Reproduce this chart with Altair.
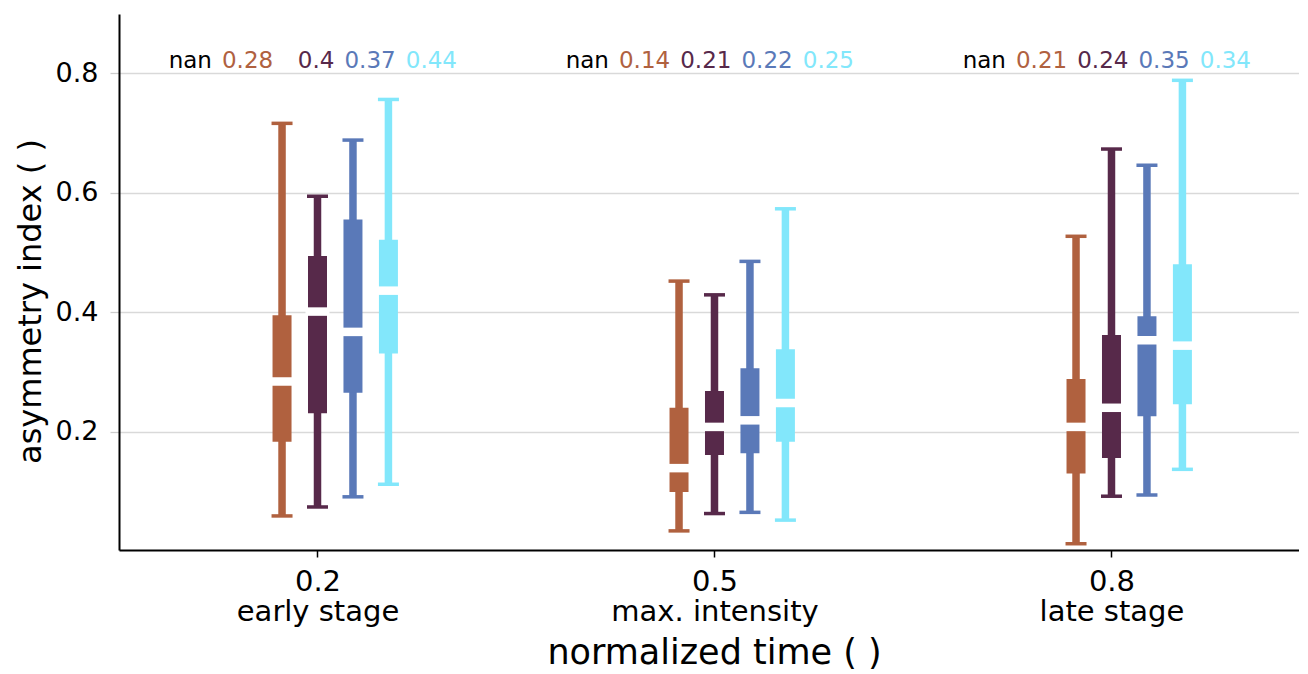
import altair as alt
import pandas as pd

# ---- data ----
times = [0.2, 0.5, 0.8]
stage_names = ["early stage", "max. intensity", "late stage"]
series = ["nan", "A", "B", "C", "D"]
colors = ["#000000", "#B0613F", "#57294A", "#5A79B8", "#82E7FB"]

whisk_lo = {"A": [0.059, 0.034, 0.0125], "B": [0.074, 0.063, 0.092],
            "C": [0.091, 0.065, 0.094], "D": [0.112, 0.052, 0.137]}
q1 = {"A": [0.183, 0.099, 0.130], "B": [0.231, 0.161, 0.156],
      "C": [0.265, 0.164, 0.226], "D": [0.331, 0.183, 0.246]}
median = {"A": [0.284, 0.139, 0.208], "B": [0.401, 0.208, 0.240],
          "C": [0.367, 0.219, 0.353], "D": [0.436, 0.248, 0.344]}
q3 = {"A": [0.395, 0.240, 0.288], "B": [0.494, 0.268, 0.362],
      "C": [0.555, 0.306, 0.393], "D": [0.521, 0.338, 0.480]}
whisk_hi = {"A": [0.716, 0.452, 0.527], "B": [0.594, 0.429, 0.673],
            "C": [0.688, 0.485, 0.646], "D": [0.756, 0.573, 0.788]}

box_step = 0.0268      # dodge between series
label_step = 0.0463    # spacing of the median annotations
label_shift = 0.0128
label_level = 0.809

rows = []
for k, s in enumerate(series[1:]):
    for i, t in enumerate(times):
        rows.append(dict(series=s, t=t, x=t + (k - 1) * box_step,
                         lo=whisk_lo[s][i], q1=q1[s][i], med=median[s][i],
                         q3=q3[s][i], hi=whisk_hi[s][i]))
df = pd.DataFrame(rows)

lab_rows = []
for k, s in enumerate(series):
    for i, t in enumerate(times):
        txt = "nan" if s == "nan" else str(round(median[s][i], 2))
        lab_rows.append(dict(series=s, x=t + label_shift + (k - 2) * label_step,
                             y=label_level, text=txt))
ldf = pd.DataFrame(lab_rows)

FONT = "DejaVu Sans"
color = alt.Color("series:N", scale=alt.Scale(domain=series, range=colors), legend=None)

label_expr = ("datum.value == 0.2 ? ['0.2', '" + stage_names[0] + "'] : "
              "datum.value == 0.5 ? ['0.5', '" + stage_names[1] + "'] : "
              "['0.8', '" + stage_names[2] + "']")

xscale = alt.Scale(domain=[0.05, 0.9417], nice=False, zero=False)
yscale = alt.Scale(domain=[0.002, 0.899], nice=False, zero=False)

xax = alt.Axis(values=times, labelExpr=label_expr, title="normalized time ( )",
               grid=False, tickColor="black", tickSize=7, tickWidth=1.5,
               labelFontSize=29, labelFont=FONT, labelColor="black", labelLimit=0,
               labelLineHeight=30, labelPadding=10, labelBaseline="top",
               titleFontSize=35, titleFont=FONT, titleFontWeight="normal",
               titleColor="black", titleBaseline="alphabetic", titleY=113,
               titleX=595, titleAlign="center",
               domainColor="black", domainWidth=2)
yax = alt.Axis(values=[0.2, 0.4, 0.6, 0.8], format=".1f", title="asymmetry index ( )",
               grid=True, gridColor="#d9d9d9", gridWidth=1.3,
               tickColor="#cccccc", tickSize=9, tickWidth=1.3,
               labelFontSize=27, labelFont=FONT, labelColor="black", labelPadding=12,
               titleFontSize=32, titleFont=FONT, titleFontWeight="normal",
               titleColor="black", titleBaseline="alphabetic", titleX=-79, titleY=287,
               titleAlign="center",
               domainColor="black", domainWidth=2)

base = alt.Chart(df)

whisk = base.mark_rule(strokeWidth=7.5, strokeCap="butt", opacity=1).encode(
    x=alt.X("x:Q", scale=xscale, axis=xax),
    y=alt.Y("lo:Q", scale=yscale, axis=yax),
    y2="hi:Q", color=color)
caps_lo = base.mark_tick(thickness=3.5, size=21, orient="horizontal", opacity=1).encode(
    x="x:Q", y="lo:Q", color=color)
caps_hi = base.mark_tick(thickness=3.5, size=21, orient="horizontal", opacity=1).encode(
    x="x:Q", y="hi:Q", color=color)
box = base.mark_rule(strokeWidth=19, strokeCap="butt", opacity=1).encode(
    x="x:Q", y="q1:Q", y2="q3:Q", color=color)
gap = base.mark_tick(thickness=8.5, size=24, orient="horizontal", color="white",
                     opacity=1).encode(x="x:Q", y="med:Q")
labels = alt.Chart(ldf).mark_text(align="right", baseline="alphabetic",
                                  font=FONT, fontSize=23).encode(
    x="x:Q", y="y:Q", text="text:N", color=color)

chart = alt.layer(whisk, caps_lo, caps_hi, box, gap, labels).properties(
    width=1180, height=536,
    autosize=alt.AutoSizeParams(type="none"),
    padding={"left": 111, "top": 6, "right": 0, "bottom": 124},
).configure_view(stroke=None).configure_axis(labelFont=FONT, titleFont=FONT)

chart.save("out.html", embed_options={"renderer": "svg", "actions": False})
